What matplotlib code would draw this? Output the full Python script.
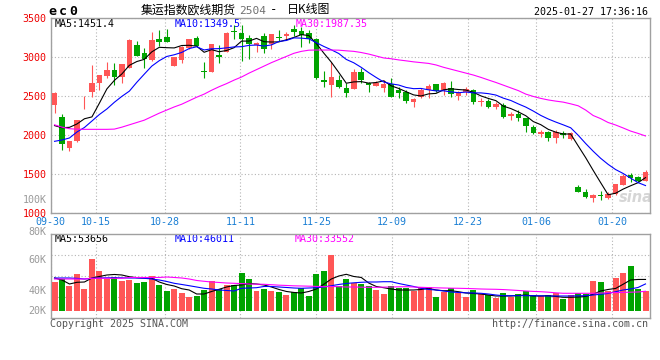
import matplotlib
matplotlib.use("Agg")
import matplotlib.pyplot as plt
import numpy as np

# ---------------- data ----------------
dates = ["09-30",
         "10-08", "10-09", "10-10", "10-11",
         "10-14", "10-15", "10-16", "10-17", "10-18",
         "10-21", "10-22", "10-23", "10-24", "10-25",
         "10-28", "10-29", "10-30", "10-31", "11-01",
         "11-04", "11-05", "11-06", "11-07", "11-08",
         "11-11", "11-12", "11-13", "11-14", "11-15",
         "11-18", "11-19", "11-20", "11-21", "11-22",
         "11-25", "11-26", "11-27", "11-28", "11-29",
         "12-02", "12-03", "12-04", "12-05", "12-06",
         "12-09", "12-10", "12-11", "12-12", "12-13",
         "12-16", "12-17", "12-18", "12-19", "12-20",
         "12-23", "12-24", "12-25", "12-26", "12-27",
         "12-30", "12-31", "01-02", "01-03",
         "01-06", "01-07", "01-08", "01-09", "01-10",
         "01-13", "01-14", "01-15", "01-16", "01-17",
         "01-20", "01-21", "01-22", "01-23", "01-24",
         "01-27"]

open_ = [2385, 2235, 1836, 1922, 2495, 2556, 2664, 2758, 2835, 2745,
         2861, 3163, 3054, 2964, 3230, 3263, 2890, 2964, 3118, 3247,
         2815, 2813, 3028, 3070, 3330, 3307, 3243, 3157, 3276, 3170,
         3256, 3272, 3362, 3337, 3307, 3234, 2707, 2642, 2707, 2608,
         2591, 2813, 2664, 2629, 2608, 2651, 2578, 2556, 2428, 2492,
         2578, 2655, 2578, 2608, 2505, 2556, 2578, 2420, 2436, 2363,
         2385, 2247, 2269, 2214, 2106, 2012, 2042, 1957, 2021, 1948,
         1334, 1262, 1193, 1228, 1193, 1237, 1356, 1485, 1455, 1412]
high = [2550, 2270, 1925, 2195, 2505, 2899, 2775, 2935, 2930, 2912,
        3235, 3208, 3114, 3328, 3350, 3359, 3000, 3140, 3240, 3276,
        2938, 3170, 3157, 3330, 3414, 3414, 3285, 3190, 3307, 3300,
        3350, 3328, 3414, 3392, 3350, 3250, 2822, 2942, 2771, 2664,
        2844, 2857, 2680, 2700, 2707, 2728, 2620, 2578, 2470, 2608,
        2655, 2660, 2685, 2694, 2560, 2620, 2590, 2471, 2462, 2428,
        2407, 2291, 2321, 2220, 2128, 2064, 2050, 2064, 2051, 2042,
        1356, 1305, 1235, 1279, 1270, 1370, 1494, 1507, 1476, 1549]
low = [2280, 1806, 1793, 1915, 2330, 2492, 2580, 2735, 2642, 2672,
       2855, 3010, 2857, 2955, 3150, 3190, 2885, 2925, 3110, 3140,
       2732, 2810, 2921, 3065, 3230, 2951, 2973, 3070, 3050, 3100,
       3208, 3221, 3276, 3127, 3179, 2720, 2620, 2492, 2610, 2492,
       2585, 2664, 2556, 2625, 2556, 2490, 2471, 2407, 2363, 2471,
       2471, 2555, 2514, 2492, 2449, 2514, 2394, 2376, 2350, 2334,
       2222, 2192, 2179, 2034, 2008, 1977, 1922, 1900, 1965, 1935,
       1265, 1193, 1134, 1163, 1176, 1230, 1350, 1391, 1399, 1405]
close = [2543, 1884, 1922, 2188, 2501, 2664, 2771, 2835, 2740, 2908,
         3221, 3015, 2977, 3221, 3199, 3199, 2998, 3135, 3234, 3144,
         2805, 3166, 3002, 3315, 3320, 3230, 3166, 3179, 3101, 3298,
         3243, 3298, 3328, 3285, 3234, 2728, 2685, 2749, 2620, 2543,
         2813, 2707, 2645, 2664, 2651, 2492, 2536, 2436, 2462, 2578,
         2629, 2565, 2664, 2527, 2536, 2591, 2420, 2436, 2363, 2394,
         2235, 2265, 2222, 2119, 2021, 2034, 1965, 2042, 1999, 2021,
         1270, 1206, 1228, 1210, 1240, 1365, 1472, 1442, 1412, 1520]

ma5 = [2120, 2093, 2098, 2141, 2208, 2232, 2409, 2592, 2702, 2784,
       2895, 2944, 2972, 3068, 3127, 3122, 3119, 3150, 3153, 3142,
       3063, 3097, 3070, 3086, 3122, 3207, 3207, 3242, 3199, 3195,
       3197, 3224, 3254, 3290, 3278, 3175, 3052, 2936, 2803, 2665,
       2682, 2686, 2666, 2674, 2696, 2632, 2598, 2556, 2515, 2501,
       2528, 2534, 2580, 2593, 2584, 2577, 2548, 2502, 2469, 2441,
       2370, 2339, 2296, 2247, 2172, 2132, 2072, 2036, 2012, 2012,
       1859, 1708, 1545, 1387, 1231, 1250, 1303, 1346, 1386, 1451]
ma10 = [1918, 1935, 1961, 2038, 2096, 2179, 2263, 2334, 2420, 2496,
        2563, 2677, 2782, 2885, 2955, 3009, 3031, 3061, 3111, 3134,
        3093, 3108, 3110, 3120, 3132, 3135, 3152, 3156, 3143, 3158,
        3202, 3215, 3248, 3245, 3236, 3186, 3138, 3095, 3047, 2971,
        2928, 2869, 2801, 2739, 2681, 2657, 2642, 2611, 2595, 2598,
        2580, 2566, 2568, 2554, 2543, 2552, 2541, 2541, 2531, 2513,
        2473, 2443, 2399, 2358, 2307, 2251, 2205, 2166, 2130, 2092,
        1996, 1890, 1791, 1700, 1622, 1555, 1505, 1445, 1387, 1349]
ma30 = [2130, 2100, 2080, 2074, 2072, 2072, 2072, 2072, 2075, 2100,
        2130, 2160, 2190, 2235, 2280, 2320, 2360, 2395, 2440, 2485,
        2525, 2575, 2620, 2660, 2705, 2745, 2795, 2840, 2885, 2930,
        2970, 3010, 3050, 3075, 3090, 3092, 3092, 3092, 3090, 3082,
        3075, 3060, 3040, 3015, 2990, 2980, 2965, 2953, 2940, 2930,
        2920, 2900, 2870, 2845, 2820, 2795, 2770, 2740, 2707, 2675,
        2640, 2605, 2570, 2525, 2495, 2470, 2450, 2435, 2422, 2400,
        2375, 2320, 2250, 2210, 2160, 2128, 2090, 2050, 2020, 1987]

volume = [49300, 54400, 42800, 62900, 37400, 88400, 68000, 53600, 58300, 51000,
          52700, 48100, 48800, 59000, 44700, 34000, 37400, 30300, 24300, 26000,
          35700, 51000, 37400, 44200, 44200, 64600, 54400, 34000, 37400, 34000,
          32300, 27200, 31800, 38600, 26000, 62900, 68000, 95200, 42500, 54900,
          47100, 45400, 42500, 35700, 28900, 42500, 39600, 39600, 34500, 41300,
          41300, 24300, 31800, 39600, 31100, 24300, 35700, 28900, 27200, 22600,
          31100, 24300, 28900, 34000, 27200, 26000, 26400, 29800, 20400, 26400,
          30100, 28400, 51000, 48800, 34000, 56100, 65100, 77000, 37700, 34300]
vma5 = [56100, 52700, 45900, 48800, 49300, 56100, 58700, 61200, 62100, 61200,
        58300, 56600, 56100, 55600, 49300, 45100, 42500, 37900, 35700, 28900,
        28900, 33200, 36900, 40800, 43400, 44200, 46800, 45900, 44200, 40800,
        36600, 33200, 31500, 30600, 33200, 37400, 45400, 54400, 59500, 62400,
        58700, 57000, 47600, 41700, 39600, 37400, 35700, 35700, 35700, 36600,
        38600, 35700, 34500, 34500, 32800, 30600, 29800, 28900, 27200, 25500,
        25500, 25500, 26400, 27200, 25500, 25500, 26000, 24700, 23300, 23300,
        23800, 24700, 28400, 34000, 36600, 38300, 45400, 52700, 53600, 53656]
vma10 = [56100, 56100, 56100, 55500, 54400, 55500, 56100, 56400, 56600, 56400,
         56100, 56100, 55600, 54400, 52700, 50200, 47100, 45100, 43000, 40800,
         38600, 37400, 35700, 34900, 34000, 38600, 39100, 39600, 41700, 41700,
         40800, 40000, 39100, 38600, 39100, 39600, 40800, 43000, 45100, 46800,
         47900, 48800, 49300, 49300, 49800, 49800, 46800, 44200, 41700, 38600,
         36600, 35700, 34000, 32300, 31500, 30900, 30600, 30100, 28900, 27200,
         26000, 26000, 26000, 26000, 26000, 25800, 25500, 25500, 25500, 25500,
         25800, 26000, 27200, 28400, 29800, 32800, 35700, 37400, 40000, 46011]
vma30 = [54400, 54400, 54400, 54400, 54400, 55600, 55600, 55600, 55600, 55600,
         57000, 57000, 57000, 57000, 57000, 57800, 57000, 56100, 54400, 51900,
         50500, 49300, 48500, 47600, 47100, 46600, 45900, 45600, 45400, 44700,
         43900, 43400, 42800, 42500, 42200, 41800, 41300, 41700, 41300, 40800,
         40800, 40500, 40300, 40300, 40600, 40800, 41100, 41300, 40800, 40300,
         39800, 39400, 39100, 38800, 38600, 38300, 37900, 37400, 37100, 36900,
         36400, 35700, 34900, 34000, 33300, 32800, 32000, 30900, 30100, 30100,
         30100, 30100, 30100, 30600, 30900, 31300, 31600, 32000, 32300, 33552]

tick_dates = ["09-30", "10-15", "10-28", "11-11", "11-25", "12-09", "12-23", "01-06", "01-20"]
price_ticks = [1000, 1500, 2000, 2500, 3000, 3500]

# ---------------- style ----------------
W, H = 660, 360
RED = "#ff5656"
GREEN = "#00a300"
GRIDC = "#b4b4b4"
SPINE = "#a0a0a0"
XLAB = "#1a7fd4"
MONO = "DejaVu Sans Mono"
CJK = ["Noto Sans CJK SC", "DejaVu Sans"]
FS = 7.2

def fx(x):
    return x / W

def fy(y):
    return 1 - y / H

fig = plt.figure(figsize=(W / 100, H / 100), dpi=100)
fig.patch.set_facecolor("white")

left, right = 50.7, 650.0
ax = fig.add_axes([fx(left), fy(212.7), fx(right - left), (212.7 - 18.3) / H])
axv = fig.add_axes([fx(left), fy(317.7), fx(right - left), (317.7 - 234.3) / H])

n = len(close)
x = np.arange(n)
xlim = ((left - 53) / 7.5, (right - 53) / 7.5)
up = np.array(close) >= np.array(open_)
cols = [RED if u else GREEN for u in up]

# positions of the date gridlines (slightly drifting as in the original)
tick_idx = np.array([dates.index(d) for d in tick_dates], dtype=float)
tick_pos = tick_idx + (tick_idx - 35) * 0.0146

# ---------------- main panel ----------------
o = np.array(open_, float); c = np.array(close, float)
body_bottom = np.minimum(o, c)
body_h = np.maximum(np.abs(c - o), 12)
ax.vlines(x, low, high, colors=cols, linewidth=0.8, zorder=3)
ax.bar(x, body_h, bottom=body_bottom, width=0.74, color=cols, linewidth=0, zorder=4)
ax.plot(x, ma5, color="black", lw=0.8, zorder=5)
ax.plot(x, ma10, color="#0000ff", lw=0.8, zorder=5)
ax.plot(x, ma30, color="#ff00ff", lw=0.8, zorder=5)

ax.set_xlim(*xlim)
ax.set_ylim(1000, 3500)
ax.set_yticks(price_ticks)
ax.set_yticklabels([str(v) for v in price_ticks], color="#ee0000", fontsize=FS, fontfamily=MONO)
ax.set_xticks(tick_pos)
ax.set_xticklabels(tick_dates, color=XLAB, fontsize=FS, fontfamily=MONO)
ax.tick_params(length=0, pad=3.2)
ax.tick_params(axis="y", pad=3.0)
ax.grid(True, color=GRIDC, linestyle=(0, (1, 2)), linewidth=0.8)
ax.set_axisbelow(True)
for s in ax.spines.values():
    s.set_color(SPINE)
    s.set_linewidth(1.0)

# legend texts (drawn under candles)
ax.text(fx(55), fy(24), "MA5:1451.4", transform=fig.transFigure, fontsize=FS,
        family=MONO, color="black", va="center", ha="left", zorder=1)
ax.text(fx(175), fy(24), "MA10:1349.5", transform=fig.transFigure, fontsize=FS,
        family=MONO, color="#0000ff", va="center", ha="left", zorder=1)
ax.text(fx(295.5), fy(24), "MA30:1987.35", transform=fig.transFigure, fontsize=FS,
        family=MONO, color="#ff00ff", va="center", ha="left", zorder=1)

# sina watermark
ax.text(fx(636), fy(197), "sina", transform=fig.transFigure, fontsize=10.5,
        family="DejaVu Sans", weight="bold", style="italic", color="#d6d6d6",
        ha="center", va="center", zorder=2)

# ---------------- volume panel ----------------
vlo, vhi = -11400, 130400
axv.bar(x, volume, width=0.8, color=cols, linewidth=0, zorder=3)
axv.plot(x, vma5, color="black", lw=0.8, zorder=5)
axv.plot(x, vma10, color="#0000ff", lw=0.8, zorder=5)
axv.plot(x, vma30, color="#ff00ff", lw=0.8, zorder=5)
axv.set_xlim(*xlim)
axv.set_ylim(vlo, vhi)
axv.set_yticks([vlo + (vhi - vlo) * f for f in (0.25, 0.5, 0.75)])
axv.set_yticklabels([])
axv.set_xticks(tick_pos)
axv.set_xticklabels([])
axv.tick_params(length=0)
axv.grid(True, color=GRIDC, linestyle=(0, (1, 2)), linewidth=0.8)
axv.set_axisbelow(True)
for s in axv.spines.values():
    s.set_color(SPINE)
    s.set_linewidth(1.0)

axv.text(fx(55), fy(239), "MA5:53656", transform=fig.transFigure, fontsize=FS,
         family=MONO, color="black", va="center", ha="left", zorder=1)
axv.text(fx(175), fy(239), "MA10:46011", transform=fig.transFigure, fontsize=FS,
         family=MONO, color="#0000ff", va="center", ha="left", zorder=1)
axv.text(fx(295), fy(239), "MA30:33552", transform=fig.transFigure, fontsize=FS,
         family=MONO, color="#ff00ff", va="center", ha="left", zorder=1)

# ---------------- figure texts ----------------
gray = "#9a9a9a"
for lab, yy in (("100K", 200), ("80K", 231.5), ("60K", 260), ("40K", 290.7), ("20K", 311)):
    fig.text(fx(46.5), fy(yy), lab, fontsize=FS, family=MONO, color=gray, ha="right", va="center")

for ch, xx in (("e", 52.5), ("c", 63), ("0", 73.5)):
    fig.text(fx(xx), fy(11.5), ch, fontsize=9.5, family=MONO, weight="bold",
             color="black", ha="center", va="center")

fig.text(fx(141), fy(10), "集运指数欧线期货", fontsize=8.6, family=CJK, color="black",
         ha="left", va="center")
fig.text(fx(239), fy(10.5), "2504", fontsize=8.0, family=MONO, color="#707070",
         ha="left", va="center")
fig.text(fx(270), fy(10), "-", fontsize=8.8, family=MONO, color="black",
         ha="left", va="center")
fig.text(fx(287), fy(10), "日K线图", fontsize=8.6, family=CJK, color="black",
         ha="left", va="center")
fig.text(fx(648), fy(12), "2025-01-27 17:36:16", fontsize=FS, family=MONO,
         color="black", ha="right", va="center")

fig.text(fx(50), fy(324), "Copyright 2025 SINA.COM", fontsize=FS, family=MONO,
         color="#555555", ha="left", va="center")
fig.text(fx(648), fy(324), "http://finance.sina.com.cn", fontsize=FS, family=MONO,
         color="#555555", ha="right", va="center")

fig.savefig("out.png", dpi=100, facecolor="white")
